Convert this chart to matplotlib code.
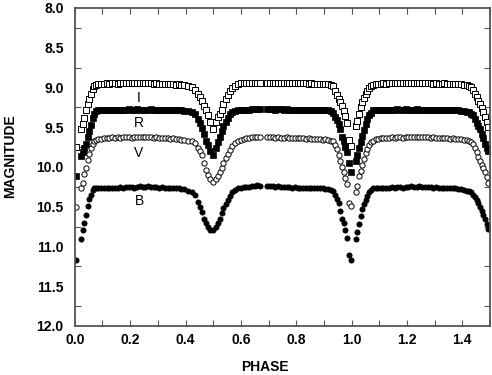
import matplotlib
matplotlib.use('Agg')
import matplotlib.pyplot as plt
from matplotlib.ticker import MultipleLocator, FormatStrFormatter

plt.rcParams['font.family'] = ['Liberation Sans', 'DejaVu Sans']
plt.rcParams['font.weight'] = 'bold'
plt.rcParams['axes.labelweight'] = 'bold'

# phase of each observation (common to all four filters)
phase = [
    # primary egress
    0.004, 0.022, 0.028, 0.034, 0.040, 0.046, 0.052, 0.058, 0.064, 0.070, 0.077, 0.085,
    # first maximum
    0.095, 0.105, 0.115, 0.125, 0.135, 0.145, 0.155, 0.165, 0.175, 0.185,
    0.195, 0.205, 0.215, 0.225, 0.235, 0.245, 0.255, 0.265, 0.275, 0.285,
    0.295, 0.305, 0.315, 0.325, 0.335, 0.345, 0.355, 0.365, 0.375, 0.385,
    # secondary eclipse
    0.395, 0.410, 0.422, 0.433, 0.445, 0.453, 0.460, 0.468, 0.475, 0.482, 0.490, 0.499,
    0.510, 0.517, 0.523, 0.530, 0.537, 0.545, 0.552, 0.560, 0.568, 0.577, 0.590, 0.600,
    0.610, 0.620,
    # second maximum
    0.630, 0.640, 0.650, 0.660, 0.670, 0.695, 0.705, 0.715, 0.725, 0.735,
    0.745, 0.755, 0.765, 0.775, 0.785, 0.795, 0.805, 0.815, 0.825, 0.835,
    0.845, 0.855, 0.865, 0.875, 0.885, 0.895, 0.905, 0.915, 0.925,
    # primary eclipse
    0.932, 0.941, 0.947, 0.953, 0.959, 0.965, 0.971, 0.977, 0.984, 0.992, 0.999,
    1.016, 1.021, 1.027, 1.033, 1.039, 1.045, 1.051, 1.057, 1.063, 1.070, 1.078, 1.087,
    # first maximum (repeated cycle)
    1.095, 1.105, 1.115, 1.125, 1.135, 1.145, 1.155, 1.165, 1.175, 1.185,
    1.195, 1.205, 1.215, 1.225, 1.235, 1.245, 1.255, 1.265, 1.275, 1.285,
    1.295, 1.305, 1.315, 1.325, 1.335, 1.345, 1.355, 1.365, 1.375, 1.385,
    1.395, 1.405, 1.415,
    # secondary ingress
    1.425, 1.432, 1.438, 1.445, 1.452, 1.458, 1.464, 1.470, 1.476, 1.482, 1.488, 1.494,
]

mag_I = [
    9.75, 9.52, 9.46, 9.38, 9.29, 9.21, 9.15, 9.08, 9.02, 8.98, 8.97, 8.96,
    8.96, 8.96, 8.95, 8.96, 8.95, 8.95, 8.96, 8.95, 8.95, 8.94,
    8.95, 8.95, 8.94, 8.95, 8.95, 8.94, 8.95, 8.95, 8.95, 8.96,
    8.95, 8.96, 8.96, 8.96, 8.96, 8.96, 8.96, 8.97, 8.96, 8.97,
    8.97, 8.98, 9.00, 9.03, 9.08, 9.12, 9.17, 9.23, 9.28, 9.35, 9.43, 9.52,
    9.43, 9.37, 9.33, 9.28, 9.21, 9.15, 9.10, 9.05, 9.01, 8.98, 8.96, 8.95,
    8.95, 8.95,
    8.95, 8.94, 8.94, 8.94, 8.94, 8.94, 8.94, 8.95, 8.94, 8.94,
    8.95, 8.94, 8.95, 8.95, 8.94, 8.95, 8.95, 8.95, 8.95, 8.95,
    8.96, 8.95, 8.96, 8.96, 8.96, 8.96, 8.96, 8.96, 8.97,
    8.98, 9.04, 9.09, 9.14, 9.19, 9.24, 9.30, 9.36, 9.45, 9.66, 9.74,
    9.49, 9.42, 9.34, 9.25, 9.19, 9.13, 9.08, 9.04, 9.01, 8.98, 8.97, 8.96,
    8.96, 8.96, 8.95, 8.96, 8.95, 8.95, 8.95, 8.95, 8.94, 8.95,
    8.95, 8.95, 8.94, 8.95, 8.95, 8.95, 8.95, 8.94, 8.95, 8.95,
    8.96, 8.95, 8.96, 8.96, 8.95, 8.96, 8.96, 8.96, 8.96, 8.96,
    8.96, 8.97, 8.97,
    8.98, 9.00, 9.03, 9.08, 9.12, 9.17, 9.21, 9.26, 9.31, 9.37, 9.44, 9.50,
]

mag_R = [
    10.11, 9.86, 9.81, 9.76, 9.71, 9.62, 9.55, 9.47, 9.38, 9.34, 9.30, 9.29,
    9.29, 9.29, 9.28, 9.29, 9.28, 9.28, 9.29, 9.28, 9.28, 9.28,
    9.27, 9.28, 9.28, 9.27, 9.28, 9.28, 9.28, 9.28, 9.27, 9.28,
    9.28, 9.28, 9.29, 9.28, 9.28, 9.28, 9.29, 9.28, 9.29, 9.29,
    9.30, 9.30, 9.31, 9.33, 9.40, 9.45, 9.51, 9.59, 9.67, 9.73, 9.80, 9.85,
    9.76, 9.69, 9.62, 9.55, 9.49, 9.43, 9.38, 9.34, 9.31, 9.30, 9.29, 9.28,
    9.28, 9.28,
    9.28, 9.27, 9.27, 9.27, 9.27, 9.27, 9.27, 9.27, 9.28, 9.27,
    9.27, 9.28, 9.27, 9.28, 9.28, 9.28, 9.28, 9.28, 9.28, 9.28,
    9.28, 9.28, 9.29, 9.28, 9.29, 9.29, 9.29, 9.29, 9.30,
    9.32, 9.37, 9.41, 9.46, 9.52, 9.62, 9.67, 9.75, 9.81, 9.95, 10.06,
    9.92, 9.85, 9.76, 9.69, 9.61, 9.53, 9.46, 9.40, 9.35, 9.32, 9.29, 9.28,
    9.29, 9.28, 9.29, 9.28, 9.28, 9.28, 9.28, 9.27, 9.28, 9.28,
    9.27, 9.28, 9.28, 9.28, 9.27, 9.28, 9.28, 9.28, 9.28, 9.28,
    9.28, 9.29, 9.28, 9.29, 9.28, 9.29, 9.29, 9.29, 9.29, 9.29,
    9.30, 9.30, 9.31,
    9.31, 9.33, 9.35, 9.40, 9.45, 9.49, 9.52, 9.59, 9.64, 9.71, 9.76, 9.80,
]

mag_V = [
    10.50, 10.27, 10.20, 10.09, 10.01, 9.91, 9.84, 9.76, 9.71, 9.68, 9.66, 9.65,
    9.65, 9.64, 9.64, 9.64, 9.63, 9.64, 9.63, 9.64, 9.63, 9.63,
    9.63, 9.64, 9.63, 9.63, 9.63, 9.62, 9.63, 9.63, 9.63, 9.64,
    9.63, 9.64, 9.64, 9.64, 9.64, 9.65, 9.64, 9.65, 9.65, 9.66,
    9.66, 9.67, 9.68, 9.70, 9.76, 9.80, 9.85, 9.95, 10.04, 10.10, 10.15, 10.19,
    10.15, 10.11, 10.06, 10.01, 9.95, 9.89, 9.84, 9.79, 9.74, 9.70, 9.67, 9.66,
    9.65, 9.64,
    9.64, 9.63, 9.63, 9.63, 9.63, 9.63, 9.63, 9.63, 9.64, 9.63,
    9.64, 9.64, 9.63, 9.64, 9.64, 9.64, 9.64, 9.64, 9.64, 9.65,
    9.64, 9.65, 9.65, 9.65, 9.65, 9.66, 9.65, 9.66, 9.67,
    9.68, 9.72, 9.78, 9.85, 9.92, 10.00, 10.06, 10.14, 10.22, 10.45, 10.49,
    10.32, 10.24, 10.12, 10.05, 9.98, 9.90, 9.83, 9.77, 9.72, 9.69, 9.67, 9.65,
    9.65, 9.64, 9.64, 9.64, 9.64, 9.63, 9.64, 9.63, 9.63, 9.64,
    9.63, 9.63, 9.63, 9.63, 9.62, 9.63, 9.63, 9.63, 9.63, 9.64,
    9.63, 9.64, 9.64, 9.64, 9.64, 9.64, 9.65, 9.64, 9.65, 9.65,
    9.65, 9.66, 9.66,
    9.67, 9.69, 9.71, 9.76, 9.81, 9.87, 9.92, 9.98, 10.02, 10.06, 10.13, 10.20,
]

mag_B = [
    11.17, 10.91, 10.80, 10.70, 10.60, 10.49, 10.41, 10.35, 10.29, 10.26, 10.26, 10.27,
    10.27, 10.27, 10.26, 10.27, 10.26, 10.26, 10.26, 10.25, 10.26, 10.25,
    10.25, 10.25, 10.26, 10.25, 10.24, 10.25, 10.25, 10.24, 10.25, 10.25,
    10.25, 10.26, 10.25, 10.26, 10.26, 10.26, 10.27, 10.27, 10.27, 10.28,
    10.28, 10.30, 10.32, 10.35, 10.44, 10.51, 10.57, 10.65, 10.71, 10.76, 10.79, 10.80,
    10.76, 10.71, 10.65, 10.58, 10.52, 10.47, 10.42, 10.37, 10.32, 10.29, 10.27, 10.26,
    10.25, 10.25,
    10.25, 10.24, 10.24, 10.23, 10.24, 10.24, 10.24, 10.24, 10.25, 10.24,
    10.25, 10.25, 10.25, 10.25, 10.26, 10.25, 10.26, 10.26, 10.26, 10.26,
    10.26, 10.27, 10.26, 10.27, 10.27, 10.27, 10.28, 10.28, 10.29,
    10.30, 10.35, 10.41, 10.46, 10.55, 10.66, 10.71, 10.79, 10.90, 11.11, 11.17,
    10.91, 10.82, 10.72, 10.62, 10.53, 10.47, 10.42, 10.37, 10.32, 10.29, 10.27, 10.26,
    10.26, 10.27, 10.26, 10.26, 10.26, 10.25, 10.26, 10.25, 10.25, 10.26,
    10.25, 10.25, 10.24, 10.25, 10.25, 10.24, 10.25, 10.25, 10.25, 10.25,
    10.26, 10.25, 10.26, 10.26, 10.26, 10.26, 10.27, 10.27, 10.27, 10.28,
    10.28, 10.29, 10.30,
    10.30, 10.32, 10.35, 10.38, 10.42, 10.45, 10.50, 10.56, 10.61, 10.65, 10.72, 10.78,
]

band_names = ['I', 'R', 'V', 'B']
label_pos = {'I': 9.13, 'R': 9.45, 'V': 9.82, 'B': 10.43}

fig = plt.figure(figsize=(4.92, 3.75), dpi=100)
ax = fig.add_axes([0.152, 0.131, 0.844, 0.848])

ms = 3.8
ax.plot(phase, mag_B, ls='none', marker='o', ms=ms, mfc='black', mec='black', mew=0.5)
ax.plot(phase, mag_V, ls='none', marker='o', ms=ms, mfc='white', mec='black', mew=0.7)
ax.plot(phase, mag_R, ls='none', marker='s', ms=ms, mfc='black', mec='black', mew=0.5)
ax.plot(phase, mag_I, ls='none', marker='s', ms=ms, mfc='white', mec='black', mew=0.7)

for name in band_names:
    ax.text(0.232, label_pos[name], name, ha='center', va='center',
            fontsize=10, fontweight='normal')

ax.set_xlim(0.0, 1.5)
ax.set_ylim(12.0, 8.0)

ax.xaxis.set_major_locator(MultipleLocator(0.2))
ax.xaxis.set_minor_locator(MultipleLocator(0.1))
ax.yaxis.set_major_locator(MultipleLocator(0.5))
ax.yaxis.set_minor_locator(MultipleLocator(0.25))
ax.xaxis.set_major_formatter(FormatStrFormatter('%.1f'))
ax.yaxis.set_major_formatter(FormatStrFormatter('%.1f'))

ax.tick_params(which='both', direction='in', top=True, right=True,
               color='#555555', labelsize=10, width=0.8)
ax.tick_params(which='major', length=4, pad=5)
ax.tick_params(which='minor', length=4)
ax.tick_params(axis='y', which='major', length=0, pad=8)

for sp in ax.spines.values():
    sp.set_color('#555555')
    sp.set_linewidth(1.3)

ax.set_xlabel('PHASE', fontsize=10, fontweight='bold')
ax.set_ylabel('MAGNITUDE', fontsize=10, fontweight='bold')
ax.xaxis.set_label_coords((265 - 75) / 415, -0.108)
ax.yaxis.set_label_coords(-0.14, 0.535)

fig.savefig('out.png', dpi=100)
